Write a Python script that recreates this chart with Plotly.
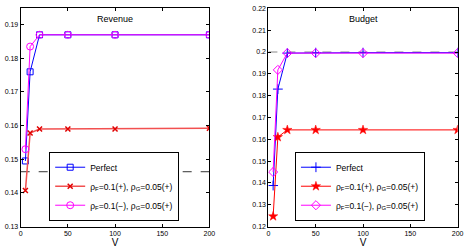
import plotly.graph_objects as go

V = [5, 10, 20, 50, 100, 200]
xticks = [0, 50, 100, 150, 200]

rev_perfect = [0.1495, 0.176, 0.187, 0.187, 0.187, 0.187]
rev_pp = [0.1407, 0.1578, 0.159, 0.159, 0.159, 0.1592]
rev_mp = [0.153, 0.1835, 0.187, 0.187, 0.187, 0.187]
rev_ref = 0.1463

bud_perfect = [0.1388, 0.183, 0.1995, 0.1997, 0.1997, 0.1997]
bud_pp = [0.1247, 0.161, 0.1643, 0.1643, 0.1643, 0.1643]
bud_mp = [0.145, 0.1918, 0.1995, 0.1995, 0.1995, 0.1995]
bud_ref = 0.2

rev_ticks = [0.13, 0.14, 0.15, 0.16, 0.17, 0.18, 0.19]
bud_ticks = [0.12, 0.13, 0.14, 0.15, 0.16, 0.17, 0.18, 0.19, 0.2, 0.21, 0.22]

names = ["Perfect",
         "ρ<sub>F</sub>=0.1(+), ρ<sub>G</sub>=0.05(+)",
         "ρ<sub>F</sub>=0.1(−), ρ<sub>G</sub>=0.05(+)"]

W, H = 471, 249
fig = go.Figure()

def px(x):
    return x / W

def py(y):
    return 1 - y / H

# Reference lines
fig.add_trace(go.Scatter(x=[0, 200], y=[rev_ref, rev_ref], mode="lines",
                         line=dict(color="#333333", width=1, dash="dash"),
                         showlegend=False, xaxis="x", yaxis="y", hoverinfo="skip"))
fig.add_trace(go.Scatter(x=[0, 200], y=[bud_ref, bud_ref], mode="lines",
                         line=dict(color="#888888", width=1, dash="dash"),
                         showlegend=False, xaxis="x2", yaxis="y2", hoverinfo="skip"))

# Revenue panel
fig.add_trace(go.Scatter(x=V, y=rev_perfect, name=names[0], mode="lines+markers",
                         line=dict(color="#0000ff", width=1),
                         marker=dict(symbol="square-open", size=6, color="#0000ff", line=dict(width=1)),
                         xaxis="x", yaxis="y", legend="legend"))
fig.add_trace(go.Scatter(x=V, y=rev_pp, name=names[1], mode="lines+markers",
                         line=dict(color="#f25050", width=1.5),
                         marker=dict(symbol="x-thin-open", size=5, color="#e00000", line=dict(width=1.5, color="#e00000")),
                         xaxis="x", yaxis="y", legend="legend"))
fig.add_trace(go.Scatter(x=V, y=rev_mp, name=names[2], mode="lines+markers",
                         line=dict(color="#ff00ff", width=1),
                         marker=dict(symbol="circle-open", size=7, color="#ff00ff", line=dict(width=1)),
                         xaxis="x", yaxis="y", legend="legend"))

# Budget panel
fig.add_trace(go.Scatter(x=V, y=bud_perfect, name=names[0], mode="lines+markers",
                         line=dict(color="#0000ff", width=1),
                         marker=dict(symbol="cross-thin-open", size=7, color="#0000ff", line=dict(width=1, color="#0000ff")),
                         xaxis="x2", yaxis="y2", legend="legend2"))
fig.add_trace(go.Scatter(x=V, y=bud_pp, name=names[1], mode="lines+markers",
                         line=dict(color="#ff0000", width=1),
                         marker=dict(symbol="star", size=7, color="#ff0000", line=dict(width=0.5, color="#ff0000")),
                         xaxis="x2", yaxis="y2", legend="legend2"))
fig.add_trace(go.Scatter(x=V, y=bud_mp, name=names[2], mode="lines+markers",
                         line=dict(color="#ff00ff", width=1),
                         marker=dict(symbol="diamond-open", size=7, color="#ff00ff", line=dict(width=1)),
                         xaxis="x2", yaxis="y2", legend="legend2"))

axis_common = dict(showgrid=False, zeroline=False, showline=True, linecolor="#000000",
                   linewidth=1, mirror="ticks", ticks="inside", ticklen=3, tickcolor="#000000",
                   tickfont=dict(family="Liberation Sans, Arial", size=7, color="#000000"))

fig.update_layout(
    width=W, height=H,
    margin=dict(l=0, r=0, t=0, b=0),
    paper_bgcolor="white", plot_bgcolor="white",
    font=dict(family="Liberation Sans, Arial", color="#000000"),
    xaxis=dict(domain=[px(19), px(211)], range=[0, 200], tickvals=xticks,
               title=dict(text="V", font=dict(size=10), standoff=1), anchor="y", **axis_common),
    yaxis=dict(domain=[py(229), py(4)], range=[0.13, 0.195], tickvals=rev_ticks,
               ticktext=[f"{t:g}" for t in rev_ticks], anchor="x", **axis_common),
    xaxis2=dict(domain=[px(271), px(463.5)], range=[0, 200], tickvals=xticks,
                title=dict(text="V", font=dict(size=10), standoff=1), anchor="y2", **axis_common),
    yaxis2=dict(domain=[py(229), py(4.5)], range=[0.12, 0.22], tickvals=bud_ticks,
                ticktext=[f"{t:g}" for t in bud_ticks], anchor="x2", **axis_common),
    legend=dict(x=px(48), y=py(223), xanchor="left", yanchor="bottom",
                bgcolor="white", bordercolor="#000000", borderwidth=1,
                font=dict(size=8.5), tracegroupgap=0, itemwidth=30),
    legend2=dict(x=px(298), y=py(223), xanchor="left", yanchor="bottom",
                 bgcolor="white", bordercolor="#000000", borderwidth=1,
                 font=dict(size=8.5), tracegroupgap=0, itemwidth=30),
    annotations=[
        dict(text="Revenue", x=(px(19) + px(211)) / 2, y=py(15), xref="paper", yref="paper",
             showarrow=False, font=dict(size=9), xanchor="center", yanchor="middle"),
        dict(text="Budget", x=(px(271) + px(463.5)) / 2, y=py(15), xref="paper", yref="paper",
             showarrow=False, font=dict(size=9), xanchor="center", yanchor="middle"),
    ],
)

fig.write_html("out.html", config={"displayModeBar": False},
               post_script="document.body.style.margin='0px';document.body.style.overflow='hidden';")
